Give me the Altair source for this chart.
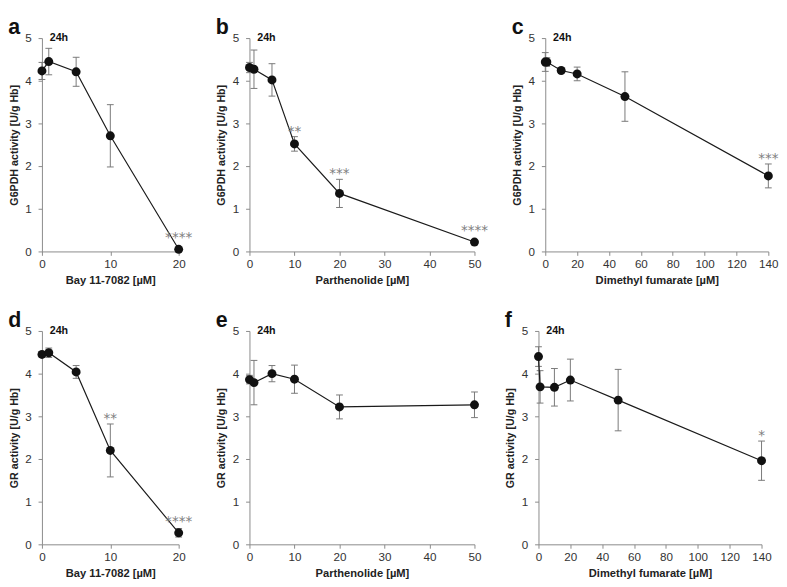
import altair as alt
import pandas as pd

# ---- data ----
a_x = [0, 1, 5, 10, 20]
a_y = [4.23, 4.45, 4.21, 2.71, 0.05]
a_err = [0.20, 0.31, 0.34, 0.73, 0.02]
a_sig = ["", "", "", "", "****"]

b_x = [0, 1, 5, 10, 20, 50]
b_y = [4.31, 4.27, 4.02, 2.52, 1.36, 0.22]
b_err = [0.12, 0.45, 0.38, 0.17, 0.33, 0.05]
b_sig = ["", "", "", "**", "***", "****"]

c_x = [0, 1, 10, 20, 50, 140]
c_y = [4.44, 4.44, 4.24, 4.16, 3.63, 1.77]
c_err = [0.22, 0.10, 0.05, 0.16, 0.58, 0.28]
c_sig = ["", "", "", "", "", "***"]

d_x = [0, 1, 5, 10, 20]
d_y = [4.45, 4.49, 4.04, 2.20, 0.27]
d_err = [0.06, 0.11, 0.15, 0.62, 0.10]
d_sig = ["", "", "", "**", "****"]

e_x = [0, 1, 5, 10, 20, 50]
e_y = [3.86, 3.79, 4.00, 3.87, 3.22, 3.27]
e_err = [0.10, 0.52, 0.19, 0.33, 0.28, 0.30]
e_sig = ["", "", "", "", "", ""]

f_x = [0, 1, 10, 20, 50, 140]
f_y = [4.40, 3.69, 3.68, 3.85, 3.38, 1.96]
f_err = [0.23, 0.38, 0.44, 0.49, 0.72, 0.46]
f_sig = ["", "", "", "", "", "*"]

y_ticks = [0, 1, 2, 3, 4, 5]
ticks_bay = [0, 10, 20]
ticks_par = [0, 10, 20, 30, 40, 50]
ticks_dmf = [0, 20, 40, 60, 80, 100, 120, 140]

FONT = "Liberation Sans"
H = 220
ERR_COLOR = "#777"


def panel(letter, xs, ys, errs, sigs, xmax, xticks, xtitle, ytitle, width):
    df = pd.DataFrame({"x": xs, "y": ys, "err": errs, "sig": sigs})
    df["lo"] = df["y"] - df["err"]
    df["hi"] = df["y"] + df["err"]
    df["star_y"] = df["y"] + df["err"].clip(lower=0.14)

    xaxis = alt.Axis(values=xticks, title=xtitle)
    yaxis = alt.Axis(values=y_ticks, title=ytitle)
    xs_ = alt.Scale(domain=[0, xmax], nice=False, padding=0, zero=True)
    ys_ = alt.Scale(domain=[0, 5], nice=False, padding=0)
    X = alt.X("x:Q", scale=xs_, axis=xaxis)

    base = alt.Chart(df)
    stem = base.mark_rule(color=ERR_COLOR, strokeWidth=1).encode(
        x=X, y=alt.Y("lo:Q", scale=ys_, axis=yaxis), y2="hi:Q"
    )
    cap_hi = base.mark_rule(color=ERR_COLOR, strokeWidth=1, xOffset=-3.5, x2Offset=3.5).encode(
        x=X, x2="x:Q", y=alt.Y("hi:Q", scale=ys_, axis=yaxis)
    )
    cap_lo = base.mark_rule(color=ERR_COLOR, strokeWidth=1, xOffset=-3.5, x2Offset=3.5).encode(
        x=X, x2="x:Q", y=alt.Y("lo:Q", scale=ys_, axis=yaxis)
    )
    line = base.mark_line(color="#1a1a1a", strokeWidth=1.2).encode(
        x=X, y=alt.Y("y:Q", scale=ys_, axis=yaxis)
    )
    pts = base.mark_circle(size=85, color="#111", opacity=1).encode(
        x=X, y=alt.Y("y:Q", scale=ys_, axis=yaxis)
    )
    stars = base.mark_text(
        font="DejaVu Sans", fontSize=14, color="#808080", baseline="alphabetic", dy=-1
    ).encode(x=X, y=alt.Y("star_y:Q", scale=ys_, axis=yaxis), text="sig:N")

    lab = alt.Chart(pd.DataFrame({"x": [0], "y": [5], "t": ["24h"]})).mark_text(
        align="left", baseline="middle", dx=8, font=FONT, fontWeight="bold",
        fontSize=11, color="#111"
    ).encode(x=X, y=alt.Y("y:Q", scale=ys_, axis=yaxis), text="t:N")

    return alt.layer(stem, cap_hi, cap_lo, line, pts, stars, lab).properties(
        width=width,
        height=H,
        title=alt.TitleParams(
            letter, anchor="start", frame="bounds", fontSize=22,
            fontWeight="bold", font=FONT, offset=-7, color="#111"
        ),
    )


g6 = "G6PDH activity [U/g Hb]"
gr = "GR activity [U/g Hb]"

pa = panel("a", a_x, a_y, a_err, a_sig, 20, ticks_bay, "Bay 11-7082 [µM]", g6, 141)
pb = panel("b", b_x, b_y, b_err, b_sig, 50, ticks_par, "Parthenolide [µM]", g6, 232)
pc = panel("c", c_x, c_y, c_err, c_sig, 140, ticks_dmf, "Dimethyl fumarate [µM]", g6, 230)
pd_ = panel("d", d_x, d_y, d_err, d_sig, 20, ticks_bay, "Bay 11-7082 [µM]", gr, 141)
pe = panel("e", e_x, e_y, e_err, e_sig, 50, ticks_par, "Parthenolide [µM]", gr, 232)
pf = panel("f", f_x, f_y, f_err, f_sig, 140, ticks_dmf, "Dimethyl fumarate [µM]", gr, 230)

row1 = alt.hconcat(pa, pb, pc, spacing=24)
row2 = alt.hconcat(pd_, pe, pf, spacing=24)

chart = alt.vconcat(row1, row2, spacing=24).properties(
    padding={"left": 0, "top": 0, "right": 0, "bottom": 0}
).configure_view(stroke=None).configure_axis(
    grid=False,
    domainColor="#888",
    tickColor="#888",
    tickSize=4,
    labelFlush=False,
    labelFont=FONT,
    labelFontSize=12,
    labelColor="#333",
    titleFont=FONT,
    titleFontWeight="bold",
    titleColor="#222",
).configure_axisX(titleFontSize=11.5, titlePadding=5, labelPadding=4).configure_axisY(
    titleFontSize=11, titlePadding=6, labelPadding=7
)

chart.save("out.html", embed_options={"renderer": "svg", "actions": False})
